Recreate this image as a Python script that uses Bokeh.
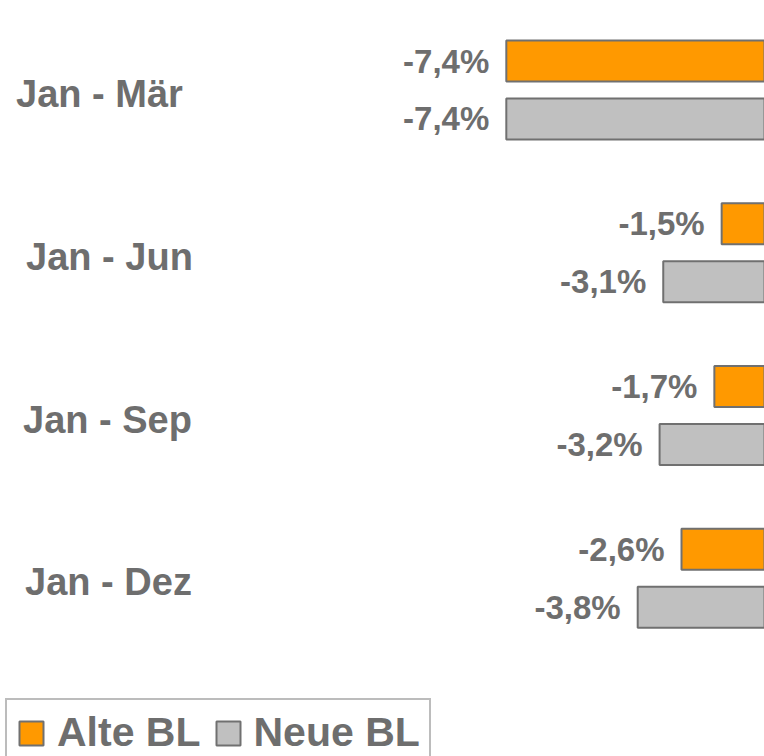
from bokeh.plotting import figure
from bokeh.models import ColumnDataSource, Range1d, Legend, LegendItem
from bokeh.transform import dodge
from bokeh.core.properties import value
from bokeh.embed import file_html
from bokeh.resources import INLINE

# ---- data ----
periods = ["Jan - Mär", "Jan - Jun", "Jan - Sep", "Jan - Dez"]
alte_bl = [-7.4, -1.5, -1.7, -2.6]
neue_bl = [-7.4, -3.1, -3.2, -3.8]
series_names = ["Alte BL", "Neue BL"]

def fmt(v):
    return f"{v:.1f}%".replace(".", ",")

pos = list(range(len(periods)))
src = ColumnDataSource(dict(
    pos=pos,
    period=periods,
    alte=alte_bl,
    neue=neue_bl,
    alte_lbl=[fmt(v) for v in alte_bl],
    neue_lbl=[fmt(v) for v in neue_bl],
    zero=[0] * len(periods),
    # small per-label horizontal nudges (style only, pixels)
    lbl_dx=[-9, 1, -1, 0],
))

TEXT = "#6e6e6e"
EDGE = "#707070"
FONT = "Liberation Sans"
ORANGE = "#FF9900"
GREY = "#C0C0C0"

p = figure(width=764, height=756, output_backend="svg", toolbar_location=None,
           x_range=Range1d(-21.258, -0.326), y_range=Range1d(4.0947, -0.5499),
           min_border=0, x_axis_location=None, y_axis_location=None,
           background_fill_color="white", border_fill_color="white")
p.grid.visible = False
p.outline_line_color = None

OFF = 0.178
H = 0.252

r_alte = p.hbar(y=dodge("pos", -OFF), left="alte", right="zero", height=H, source=src,
                fill_color=ORANGE, line_color=EDGE, line_width=2)
r_neue = p.hbar(y=dodge("pos", OFF), left="neue", right="zero", height=H, source=src,
                fill_color=GREY, line_color=EDGE, line_width=2)

p.text(x="alte", y=dodge("pos", -OFF), text="alte_lbl", source=src, x_offset=-17,
       text_align="right", text_baseline="middle", text_font=value(FONT),
       text_font_style="bold", text_font_size="33px", text_color=TEXT)
p.text(x="neue", y=dodge("pos", OFF), text="neue_lbl", source=src, x_offset=-17,
       text_align="right", text_baseline="middle", text_font=value(FONT),
       text_font_style="bold", text_font_size="33px", text_color=TEXT)

p.text(x=-18.3, y="pos", text="period", source=src, x_offset="lbl_dx", y_offset=4,
       text_align="center", text_baseline="middle", text_font=value(FONT),
       text_font_style="bold", text_font_size="38px", text_color=TEXT)

legend = Legend(items=[LegendItem(label=series_names[0], renderers=[r_alte]),
                       LegendItem(label=series_names[1], renderers=[r_neue])],
                orientation="horizontal", location=(5, -11),
                glyph_width=30, glyph_height=30, label_standoff=11, spacing=12,
                padding=9, margin=0,
                label_text_font=FONT, label_text_font_style="bold",
                label_text_font_size="41px", label_text_color=TEXT,
                border_line_color="#7a7a7a", border_line_width=2,
                background_fill_alpha=1.0)
p.add_layout(legend)

open("out.html", "w").write(file_html(p, INLINE))
